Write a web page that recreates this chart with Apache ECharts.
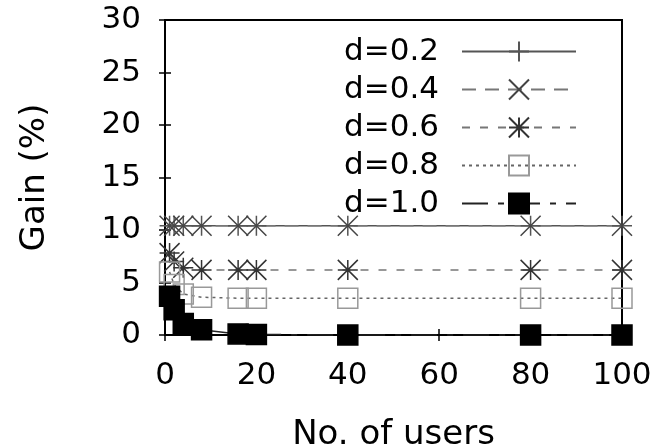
<!DOCTYPE html>
<html>
<head>
<meta charset="utf-8">
<script src="https://cdn.jsdelivr.net/npm/echarts@6/dist/echarts.min.js"></script>
<style>
  html, body { margin: 0; padding: 0; background: #fff; }
  #main { width: 663px; height: 448px; }
</style>
</head>
<body>
<div id="main"></div>
<script>
// number of users on x axis
var users = [1, 2, 4, 8, 16, 20, 40, 80, 100]
// gain (%) for each d
var gain_d02 = [10.4, 10.4, 10.4, 10.4, 10.4, 10.4, 10.4, 10.4, 10.4]
var gain_d04 = [10.4, 10.4, 10.4, 10.4, 10.4, 10.4, 10.4, 10.4, 10.4]
var gain_d06 = [7.8, 7.0, 6.4, 6.2, 6.2, 6.2, 6.2, 6.2, 6.2]
var gain_d08 = [6.0, 4.8, 3.9, 3.6, 3.5, 3.5, 3.5, 3.5, 3.5]
var gain_d10 = [3.7, 2.4, 1.1, 0.5, 0.1, 0.05, 0, 0, 0]
var series_names = ['d=0.2', 'd=0.4', 'd=0.6', 'd=0.8', 'd=1.0']

function pairs(ys){
  var out = []
  for (var i = 0; i < users.length; i++) {
    out.push([users[i], ys[i]])
  }
  return out
}

var font = 'DejaVu Sans'
var plus = 'path://M0,5L10,5M5,0L5,10'
var cross = 'path://M0,0L10,10M10,0L0,10'
var star = 'path://M0,0L10,10M10,0L0,10M5,0L5,10M0,5L10,5'

function mk(name, ys, symbol, lineColor, dash, symColor, fill){
  return {
    name: name,
    type: 'line',
    data: pairs(ys),
    clip: false,
    symbol: symbol,
    symbolSize: 20,
    showAllSymbol: true,
    lineStyle: { color: lineColor, width: 1.5, type: dash },
    itemStyle: { color: fill, borderColor: symColor, borderWidth: 1.5 },
    emphasis: { disabled: true }
  }
}

var myChart = echarts.init(document.getElementById('main'))
myChart.setOption({
  animation: false,
  backgroundColor: '#fff',
  grid: {
    left: 165, right: 41, top: 20, bottom: 113,
    outerBoundsMode: 'none',
    containLabel: false,
    show: true, borderColor: '#000', borderWidth: 2, backgroundColor: 'transparent'
  },
  legend: {
    data: series_names,
    orient: 'vertical',
    right: 81,
    top: 31,
    align: 'right',
    itemWidth: 114,
    itemHeight: 25,
    itemGap: 7,
    textStyle: { fontFamily: font, fontSize: 31, color: '#000', lineHeight: 30, padding: [0, 18, 0, 0] }
  },
  xAxis: [{
    type: 'value', min: 0, max: 100, interval: 20,
    name: 'No. of users', nameLocation: 'middle', nameGap: 83,
    nameTextStyle: { fontFamily: font, fontSize: 34, color: '#000' },
    axisLine: { show: false },
    axisTick: { inside: true, length: 6, lineStyle: { color: '#000', width: 1.5 } },
    axisLabel: { fontFamily: font, fontSize: 31, color: '#000', margin: 25 },
    splitLine: { show: false }
  }, {
    type: 'value', min: 0, max: 100, interval: 20, position: 'top',
    axisLine: { show: false },
    axisTick: { inside: true, length: 6, lineStyle: { color: '#000', width: 1.5 } },
    axisLabel: { show: false },
    splitLine: { show: false }
  }],
  yAxis: [{
    type: 'value', min: 0, max: 30, interval: 5,
    name: 'Gain (%)', nameLocation: 'middle', nameGap: 113,
    nameTextStyle: { fontFamily: font, fontSize: 34, color: '#000' },
    axisLine: { show: false },
    axisTick: { inside: true, length: 6, lineStyle: { color: '#000', width: 1.5 } },
    axisLabel: { fontFamily: font, fontSize: 31, color: '#000', margin: 24 },
    splitLine: { show: false }
  }, {
    type: 'value', min: 0, max: 30, interval: 5, position: 'right',
    axisLine: { show: false },
    axisTick: { inside: true, length: 6, lineStyle: { color: '#000', width: 1.5 } },
    axisLabel: { show: false },
    splitLine: { show: false }
  }],
  series: [
    mk('d=0.2', gain_d02, plus, '#555', 'solid', '#555', 'transparent'),
    mk('d=0.4', gain_d04, cross, '#777', [14, 9], '#444', 'transparent'),
    mk('d=0.6', gain_d06, star, '#777', [8, 10], '#333', 'transparent'),
    mk('d=0.8', gain_d08, 'rect', '#666', [3, 4], '#999', 'transparent'),
    mk('d=1.0', gain_d10, 'rect', '#222', [26, 10, 6, 10], '#000', '#000')
  ]
})
</script>
</body>
</html>
